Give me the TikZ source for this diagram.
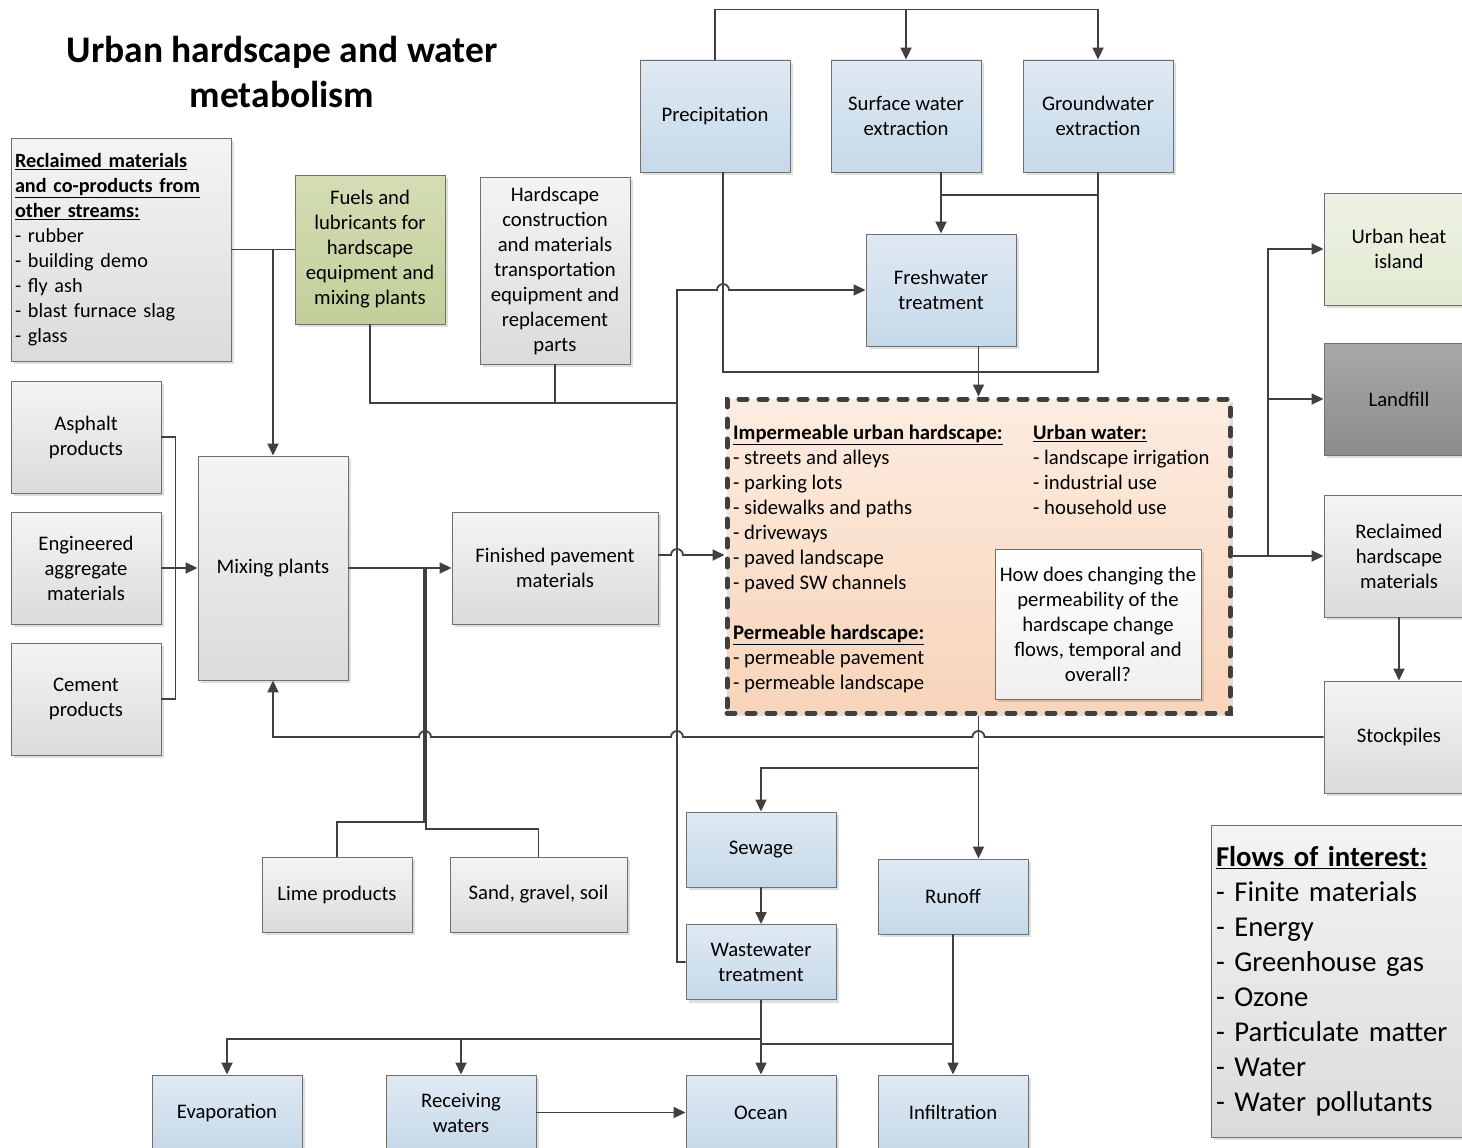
\documentclass[tikz,border=0pt]{standalone}
\usepackage{fontspec}
\setmainfont{Carlito}
\usetikzlibrary{arrows.meta,shadows}
\definecolor{lnc}{HTML}{404040}
\definecolor{bdr}{HTML}{707070}
\definecolor{blueT}{HTML}{DFE9F3}
\definecolor{blueB}{HTML}{C6D9E9}
\definecolor{grayT}{HTML}{F4F4F4}
\definecolor{grayB}{HTML}{DBDBDB}
\definecolor{greenT}{HTML}{D4DDB4}
\definecolor{greenB}{HTML}{C2CE9A}
\definecolor{lgreenT}{HTML}{EEF2E4}
\definecolor{lgreenB}{HTML}{E1E9D1}
\definecolor{darkT}{HTML}{A8A8A8}
\definecolor{darkB}{HTML}{8C8C8C}
\definecolor{peachT}{HTML}{FCECE0}
\definecolor{peachB}{HTML}{F8D4BA}
\begin{document}
\begin{tikzpicture}[x=1pt,y=-1pt,
  ln/.style={draw=lnc,line width=1.8pt},
  ar/.style={ln,-{Triangle[length=12pt,width=11pt]}},
  sz/.style 2 args={minimum width=#1pt,minimum height=#2pt},
  bx/.style={draw=bdr,line width=0.9pt,align=center,inner sep=3pt,
    font=\fontsize{20.7}{25}\selectfont,
    drop shadow={shadow xshift=3pt,shadow yshift=-3pt,fill=black,opacity=0.13}},
  bluebox/.style={bx,top color=blueT,bottom color=blueB},
  graybox/.style={bx,top color=grayT,bottom color=grayB},
  greenbox/.style={bx,top color=greenT,bottom color=greenB},
  lgreenbox/.style={bx,top color=lgreenT,bottom color=lgreenB},
  darkbox/.style={bx,top color=darkT,bottom color=darkB},
  qbox/.style={bx,top color=white,bottom color=grayT!80!grayB},
  dbox/.style={draw=lnc,line width=5pt,dash pattern=on 8pt off 12pt,line cap=round,
    top color=peachT,bottom color=peachB,
    drop shadow={shadow xshift=3pt,shadow yshift=-3pt,fill=black,opacity=0.13}},
  txt/.style={align=left,inner sep=0pt,font=\fontsize{20.7}{25}\selectfont},
]
\useasboundingbox (0,0) rectangle (1462,1148);

% title
\node[align=center,font=\fontsize{37.5}{45}\selectfont\bfseries] (title) at (282,72)
  {Urban hardscape and water\\metabolism};

% left column
\node[graybox,sz={220}{223},text width=212pt,align=left,font=\fontsize{20.2}{25}\selectfont] (recl) at (121,249.5)
  {\textbf{\underline{Reclaimed materials}}\\\textbf{\underline{and co-products from}}\\\textbf{\underline{other streams:}}\\- rubber\\- building demo\\- fly ash\\- blast furnace slag\\- glass};
\node[graybox,sz={150}{112}] (asph) at (86,437) {Asphalt\\products};
\node[graybox,sz={150}{112}] (eng) at (86,568) {Engineered\\aggregate\\materials};
\node[graybox,sz={150}{112}] (cem) at (86,699) {Cement\\products};

\node[greenbox,sz={150}{149}] (fuels) at (370,249.5) {Fuels and\\lubricants for\\hardscape\\equipment and\\mixing plants};
\node[graybox,sz={150}{187}] (hard) at (555,270.5) {Hardscape\\construction\\and materials\\transportation\\equipment and\\replacement\\parts};
\node[graybox,sz={150}{224}] (mix) at (273,568) {Mixing plants};
\node[graybox,sz={206}{112}] (fin) at (555,568) {Finished pavement\\materials};
\node[graybox,sz={150}{75}] (lime) at (337,894.5) {Lime products};
\node[graybox,sz={177}{75}] (sand) at (538.5,894.5) {Sand, gravel, soil};

% water sources
\node[bluebox,sz={150}{112}] (precip) at (715,116) {Precipitation};
\node[bluebox,sz={150}{112}] (surf) at (906,116) {Surface water\\extraction};
\node[bluebox,sz={150}{112}] (ground) at (1098,116) {Groundwater\\extraction};
\node[bluebox,sz={150}{112}] (fresh) at (941,290) {Freshwater\\treatment};

% central hardscape box
\node[dbox,sz={503}{314}] (dash) at (978.5,556) {};
\node[txt,anchor=north west] (imp) at (733,424.5)
  {\textbf{\underline{Impermeable urban hardscape:}}\\- streets and alleys\\- parking lots\\- sidewalks and paths\\- driveways\\- paved landscape\\- paved SW channels};
\node[txt,anchor=north west] (perm) at (733,624.5)
  {\textbf{\underline{Permeable hardscape:}}\\- permeable pavement\\- permeable landscape};
\node[txt,anchor=north west] (uw) at (1033,424.5)
  {\textbf{\underline{Urban water:}}\\- landscape irrigation\\- industrial use\\- household use};
\node[qbox,sz={206}{150}] (q) at (1098,624) {How does changing the\\permeability of the\\hardscape change\\flows, temporal and\\overall?};

% right column
\node[lgreenbox,sz={150}{112}] (uhi) at (1399,249) {Urban heat\\island};
\node[darkbox,sz={150}{112}] (land) at (1399,399) {Landfill};
\node[graybox,sz={150}{122}] (rhm) at (1399,556) {Reclaimed\\hardscape\\materials};
\node[graybox,sz={150}{112}] (stock) at (1399,737) {Stockpiles};
\node[graybox,sz={264}{312},text width=254pt,align=left,font=\fontsize{28.7}{35}\selectfont] (flows) at (1343,981)
  {\textbf{\underline{Flows of interest:}}\\- Finite materials\\- Energy\\- Greenhouse gas\\- Ozone\\- Particulate matter\\- Water\\- Water pollutants};

% water sinks
\node[bluebox,sz={150}{75}] (sew) at (761,849.5) {Sewage};
\node[bluebox,sz={150}{75}] (ww) at (761,962) {Wastewater\\treatment};
\node[bluebox,sz={150}{75}] (run) at (953,896.5) {Runoff};
\node[bluebox,sz={150}{75}] (evap) at (227,1112.5) {Evaporation};
\node[bluebox,sz={150}{75}] (recv) at (461,1112.5) {Receiving\\waters};
\node[bluebox,sz={150}{75}] (ocean) at (761,1112.5) {Ocean};
\node[bluebox,sz={150}{75}] (infil) at (953,1112.5) {Infiltration};

% coordinates
\coordinate (topbus) at (906,10);
\coordinate (gwbus) at (1098,195);
\coordinate (pbus) at (1098,372);
\coordinate (fbus) at (677,403);
\coordinate (wwup) at (677,962);
\coordinate (wwtop) at (677,290);
\coordinate (limej) at (424,822);
\coordinate (sandj) at (426,829);
\coordinate (sewj) at (978.5,768);
\coordinate (rbus) at (1268,556);
\coordinate (lowbus) at (761,1039);
\coordinate (runbus) at (953,1044);

% connectors
\draw[ar] (precip.north) -- ++(0,-50) -| (ground.north);
\draw[ar] (topbus) -- (surf.north);
\draw[ar] (surf.south -| fresh.north) -- (fresh.north);
\draw[ln] (ground.south) -- (gwbus) -- (gwbus -| fresh.north);
\draw[ln] (gwbus) -- (pbus) -| ([xshift=8pt]precip.south);
\draw[ar] (fresh.south -| dash.north) -- (dash.north);

\draw[ln] (recl.east) -- (fuels.west);
\draw[ar] (recl.east -| mix.north) -- (mix.north);
\draw[ln] (fuels.south) |- (fbus);
\draw[ln] (hard.south) -- (hard.south |- fbus);
\draw[ar] (ww.west) -- (wwup) -- (wwtop) -- (717,290) arc[start angle=180,end angle=0,radius=6pt] -- (fresh.west);

\draw[ln] (asph.east) -- ++(14,0) |- (cem.east);
\draw[ar] (eng.east) -- (mix.west);
\draw[ar] (mix.east) -- (fin.west);
\draw[ln] (lime.north) |- (limej) -- (limej |- mix.east);
\draw[ln] (sand.north) |- (sandj) -- (sandj |- mix.east);
\draw[ar] ([yshift=13pt]fin.east) -- (671,555) arc[start angle=180,end angle=0,radius=6pt] -- (dash.west |- 0,555);

\draw[ar] (stock.west) -- (984.5,737) arc[start angle=0,end angle=180,radius=6pt]
  -- (683,737) arc[start angle=0,end angle=180,radius=6pt]
  -- (431,737) arc[start angle=0,end angle=180,radius=6pt]
  -| (mix.south);

\draw[ar] (dash.south) -- (sewj) -| (sew.north);
\draw[ar] (sewj) -- (sewj |- run.north);
\draw[ar] (dash.east) -- (rbus) |- (uhi.west);
\draw[ar] (rbus |- land.west) -- (land.west);
\draw[ar] (rbus) -- (rhm.west);
\draw[ar] (rhm.south) -- (stock.north);

\draw[ar] (sew.south) -- (ww.north);
\draw[ar] (ww.south) -- (ocean.north);
\draw[ar] (lowbus) -| (evap.north);
\draw[ar] (lowbus -| recv.north) -- (recv.north);
\draw[ar] (run.south) -- (infil.north);
\draw[ln] (runbus) -- (runbus -| ocean.north);
\draw[ar] (recv.east) -- (ocean.west);
\end{tikzpicture}
\end{document}
